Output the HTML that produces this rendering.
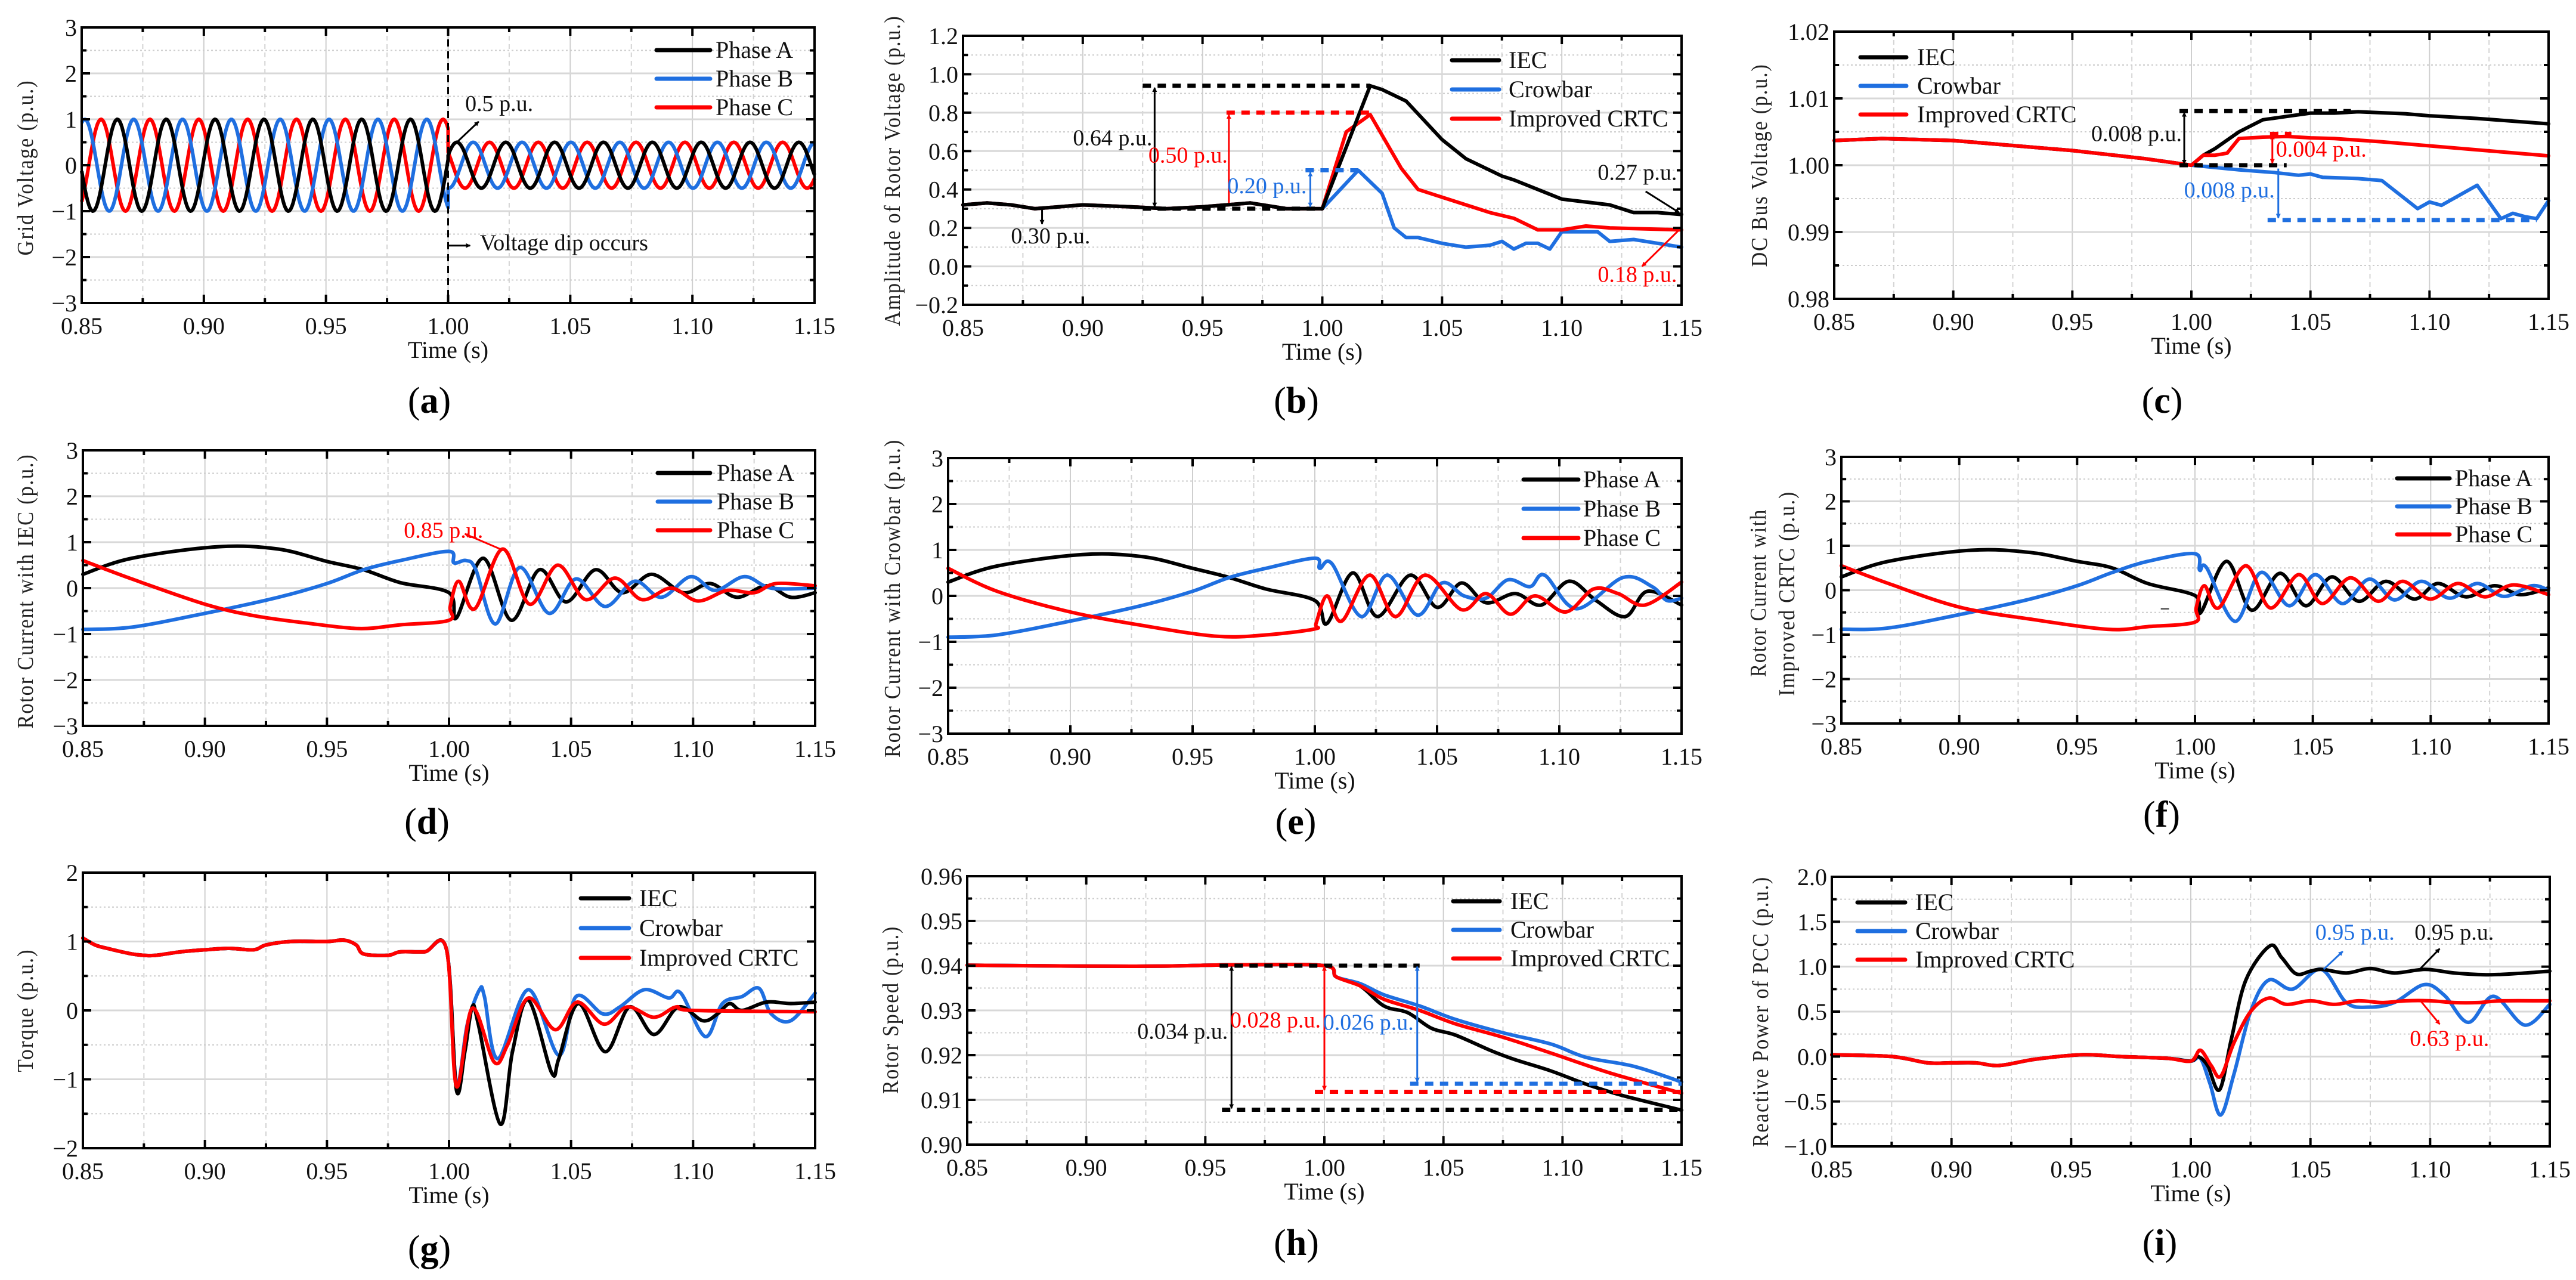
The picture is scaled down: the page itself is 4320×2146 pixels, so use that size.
<!DOCTYPE html>
<html><head><meta charset="utf-8">
<style>
html,body{margin:0;padding:0;background:#fff;}
svg{display:block;font-family:"Liberation Serif",serif;}
</style></head>
<body>
<svg id="fig" width="4320" height="2146" viewBox="0 0 4320 2146" xmlns="http://www.w3.org/2000/svg">
<defs>
<marker id="ah-k" markerWidth="8" markerHeight="8" refX="7" refY="4" orient="auto" markerUnits="userSpaceOnUse"><path d="M0,0 L8,4 L0,8 Z" fill="#000"/></marker>
<marker id="ah-b" markerWidth="8" markerHeight="8" refX="7" refY="4" orient="auto" markerUnits="userSpaceOnUse"><path d="M0,0 L8,4 L0,8 Z" fill="#1f6fe0"/></marker>
<marker id="ah-r" markerWidth="8" markerHeight="8" refX="7" refY="4" orient="auto" markerUnits="userSpaceOnUse"><path d="M0,0 L8,4 L0,8 Z" fill="#ff0000"/></marker>
</defs>
</svg>
<script>
// ---------- DATA ----------
const xTicks = [0.85,0.90,0.95,1.00,1.05,1.10,1.15];
const xTickLabels = ["0.85","0.90","0.95","1.00","1.05","1.10","1.15"];

// (a) grid voltage: sine parameters
const a_amp = [1.0, 0.5];
const a_peakTime = [0.8646, 1.0036];
const a_phaseOffset = [0, -0.01333, -0.00667];
const a_period = [0.02];

// (b) rotor voltage amplitude
const b_pre = [[0.85,0.32],[0.86,0.33],[0.87,0.32],[0.88,0.30],[0.89,0.31],[0.90,0.32],[0.92,0.31],[0.935,0.30],[0.95,0.31],[0.97,0.33],[0.985,0.30],[1.0,0.30]];
const b_iec = [[1.02,0.94],[1.025,0.92],[1.035,0.86],[1.05,0.66],[1.06,0.56],[1.075,0.47],[1.08,0.45],[1.09,0.40],[1.10,0.35],[1.12,0.32],[1.13,0.28],[1.14,0.28],[1.15,0.27]];
const b_crow = [[1.015,0.50],[1.025,0.38],[1.03,0.20],[1.035,0.15],[1.04,0.15],[1.05,0.12],[1.06,0.10],[1.07,0.11],[1.075,0.13],[1.08,0.09],[1.085,0.12],[1.09,0.12],[1.095,0.09],[1.10,0.18],[1.11,0.18],[1.115,0.18],[1.12,0.13],[1.13,0.14],[1.14,0.12],[1.15,0.10]];
const b_crtc = [[1.01,0.70],[1.02,0.79],[1.033,0.51],[1.04,0.40],[1.05,0.36],[1.06,0.32],[1.07,0.28],[1.08,0.25],[1.09,0.19],[1.10,0.19],[1.11,0.21],[1.12,0.20],[1.15,0.19]];

// (c) DC bus voltage
const c_pre = [[0.85,1.0037],[0.87,1.0040],[0.90,1.0037],[0.95,1.0022],[0.98,1.0010],[1.0,1.0000]];
const c_iec = [[1.005,1.0015],[1.01,1.0025],[1.02,1.0050],[1.03,1.0068],[1.04,1.0073],[1.05,1.0078],[1.06,1.0078],[1.07,1.0080],[1.09,1.0077],[1.10,1.0074],[1.12,1.0070],[1.15,1.0062]];
const c_crow = [[1.02,0.9993],[1.035,0.9989],[1.045,0.9985],[1.05,0.9987],[1.055,0.9982],[1.07,0.9980],[1.08,0.9977],[1.095,0.9935],[1.10,0.9945],[1.105,0.9940],[1.12,0.9970],[1.13,0.9920],[1.135,0.9928],[1.14,0.9923],[1.145,0.9920],[1.15,0.9947]];
const c_crtc = [[1.005,1.0015],[1.01,1.0015],[1.015,1.0018],[1.02,1.0040],[1.03,1.0042],[1.04,1.0043],[1.05,1.0041],[1.06,1.0040],[1.08,1.0035],[1.10,1.0029],[1.12,1.0023],[1.15,1.0014]];

// (d) rotor current with IEC
const d_A = [[0.85,0.30],[0.87,0.65],[0.905,0.90],[0.93,0.85],[0.95,0.58],[0.965,0.40],[0.98,0.12],[1.0,-0.10],[1.003,-0.65],[1.014,0.65],[1.0255,-0.70],[1.037,0.40],[1.048,-0.30],[1.060,0.40],[1.071,-0.10],[1.083,0.30],[1.096,-0.10],[1.107,0.10],[1.118,-0.20],[1.130,0.05],[1.140,-0.20],[1.15,-0.10]];
const d_B = [[0.85,-0.90],[0.87,-0.85],[0.90,-0.55],[0.93,-0.20],[0.95,0.10],[0.965,0.40],[0.98,0.60],[1.0,0.80],[1.002,0.55],[1.007,0.60],[1.011,0.40],[1.019,-0.78],[1.029,0.45],[1.041,-0.55],[1.052,0.20],[1.064,-0.40],[1.076,0.15],[1.087,-0.20],[1.099,0.25],[1.109,-0.05],[1.121,0.25],[1.132,0.0],[1.15,0.0]];
const d_C = [[0.85,0.60],[0.87,0.20],[0.90,-0.35],[0.92,-0.60],[0.94,-0.75],[0.963,-0.88],[0.98,-0.80],[1.0,-0.70],[1.0005,-0.40],[1.004,0.15],[1.0106,-0.45],[1.022,0.85],[1.033,-0.35],[1.0445,0.50],[1.056,-0.25],[1.068,0.22],[1.079,-0.25],[1.091,0.0],[1.102,-0.28],[1.114,-0.05],[1.125,-0.10],[1.134,0.10],[1.15,0.05]];

// (e) rotor current with Crowbar
const e_A = [[0.85,0.30],[0.87,0.65],[0.905,0.90],[0.93,0.85],[0.95,0.60],[0.965,0.40],[0.98,0.15],[1.0,-0.10],[1.005,-0.60],[1.0155,0.50],[1.0256,-0.45],[1.039,0.45],[1.05,-0.25],[1.060,0.28],[1.070,-0.15],[1.082,0.05],[1.0926,-0.20],[1.104,0.32],[1.115,-0.10],[1.127,-0.45],[1.136,0.10],[1.15,-0.20]];
const e_B = [[0.85,-0.90],[0.87,-0.85],[0.90,-0.55],[0.93,-0.20],[0.95,0.10],[0.965,0.40],[0.98,0.60],[1.0,0.82],[1.002,0.60],[1.007,0.70],[1.019,-0.45],[1.0296,0.45],[1.042,-0.42],[1.052,0.28],[1.061,0.0],[1.070,-0.05],[1.079,0.35],[1.088,0.20],[1.094,0.45],[1.107,-0.28],[1.126,0.40],[1.138,0.20],[1.144,-0.10],[1.15,-0.05]];
const e_C = [[0.85,0.60],[0.87,0.10],[0.90,-0.35],[0.93,-0.65],[0.96,-0.88],[0.98,-0.85],[1.0,-0.72],[1.0005,-0.60],[1.005,0.0],[1.011,-0.55],[1.0224,0.45],[1.033,-0.45],[1.045,0.45],[1.06,-0.30],[1.07,0.05],[1.08,-0.40],[1.09,0.0],[1.1027,-0.35],[1.114,0.15],[1.124,0.05],[1.135,-0.20],[1.15,0.30]];

// (f) rotor current with Improved CRTC
const f_A = [[0.85,0.30],[0.87,0.65],[0.905,0.90],[0.93,0.85],[0.95,0.65],[0.965,0.50],[0.98,0.15],[1.0,-0.12],[1.0025,-0.50],[1.0134,0.65],[1.024,-0.45],[1.036,0.38],[1.047,-0.35],[1.058,0.30],[1.0695,-0.25],[1.081,0.20],[1.093,-0.20],[1.103,0.15],[1.115,-0.15],[1.127,0.10],[1.138,-0.10],[1.15,0.05]];
const f_B = [[0.85,-0.88],[0.87,-0.85],[0.90,-0.55],[0.93,-0.20],[0.95,0.10],[0.965,0.40],[0.98,0.65],[1.0,0.82],[1.002,0.45],[1.005,0.50],[1.017,-0.70],[1.028,0.40],[1.040,-0.35],[1.051,0.35],[1.0625,-0.30],[1.074,0.25],[1.0847,-0.22],[1.096,0.20],[1.108,-0.18],[1.1197,0.15],[1.131,-0.14],[1.143,0.10],[1.15,0.0]];
const f_C = [[0.85,0.55],[0.87,0.15],[0.90,-0.38],[0.93,-0.65],[0.963,-0.88],[0.98,-0.82],[1.0,-0.72],[1.0005,-0.40],[1.004,0.10],[1.010,-0.40],[1.0216,0.55],[1.032,-0.40],[1.044,0.35],[1.054,-0.30],[1.066,0.28],[1.0777,-0.25],[1.088,0.20],[1.0998,-0.20],[1.1115,0.15],[1.123,-0.15],[1.135,0.12],[1.15,-0.10]];

// (g) torque
const g_pre = [[0.85,1.05],[0.855,0.95],[0.86,0.90],[0.87,0.82],[0.875,0.80],[0.88,0.80],[0.89,0.85],[0.90,0.88],[0.91,0.90],[0.92,0.88],[0.925,0.95],[0.935,1.00],[0.95,1.00],[0.957,1.02],[0.962,0.95],[0.965,0.82],[0.975,0.80],[0.98,0.85],[0.99,0.85],[0.999,0.88]];
const g_iec = [[1.003,-1.15],[1.0065,-0.60],[1.0095,0.05],[1.012,-0.20],[1.021,-1.65],[1.026,-0.60],[1.0325,0.15],[1.042,-0.90],[1.045,-0.70],[1.053,0.10],[1.064,-0.60],[1.074,0.05],[1.084,-0.35],[1.094,0.05],[1.104,-0.15],[1.11,-0.05],[1.115,0.10],[1.12,0.0],[1.13,0.12],[1.14,0.10],[1.15,0.12]];
const g_crow = [[1.003,-1.05],[1.0075,-0.20],[1.0125,0.30],[1.0145,0.20],[1.02,-0.70],[1.0325,0.30],[1.045,-0.65],[1.052,0.20],[1.063,-0.05],[1.07,0.05],[1.08,0.30],[1.09,0.18],[1.095,0.25],[1.105,-0.38],[1.112,0.10],[1.12,0.20],[1.127,0.32],[1.132,-0.05],[1.14,-0.15],[1.15,0.25]];
const g_crtc = [[1.003,-1.10],[1.0095,0.03],[1.0185,-0.75],[1.024,-0.50],[1.0325,0.18],[1.0435,-0.28],[1.0525,0.12],[1.0635,-0.20],[1.073,0.05],[1.084,-0.10],[1.093,0.05],[1.10,0.0],[1.15,-0.02]];

// (h) rotor speed
const h_pre = [[0.85,0.9401],[0.90,0.9399],[0.93,0.9399],[0.965,0.9402],[1.0,0.9400]];
const h_iec = [[1.005,0.9375],[1.015,0.9355],[1.025,0.9310],[1.035,0.9295],[1.045,0.9260],[1.055,0.9245],[1.07,0.9210],[1.08,0.9190],[1.095,0.9165],[1.11,0.9135],[1.125,0.9110],[1.15,0.9077]];
const h_crow = [[1.005,0.9375],[1.015,0.9360],[1.025,0.9335],[1.04,0.9310],[1.055,0.9280],[1.075,0.9250],[1.095,0.9225],[1.11,0.9195],[1.13,0.9175],[1.15,0.9140]];
const h_crtc = [[1.005,0.9375],[1.015,0.9355],[1.025,0.9325],[1.04,0.9300],[1.055,0.9270],[1.075,0.9240],[1.095,0.9205],[1.12,0.9160],[1.15,0.9115]];

// (i) reactive power of PCC
const i_pre = [[0.85,0.02],[0.875,0.0],[0.89,-0.07],[0.90,-0.07],[0.91,-0.07],[0.92,-0.10],[0.935,-0.03],[0.955,0.02],[0.97,0.0],[0.99,-0.02],[1.0,-0.05]];
const i_iec = [[1.003,0.0],[1.007,-0.10],[1.012,-0.37],[1.017,0.20],[1.023,0.85],[1.033,1.23],[1.038,1.10],[1.044,0.92],[1.05,0.95],[1.055,0.97],[1.065,0.93],[1.075,0.98],[1.085,0.93],[1.098,0.97],[1.11,0.93],[1.125,0.91],[1.14,0.93],[1.15,0.95]];
const i_crow = [[1.004,-0.02],[1.008,-0.30],[1.0125,-0.65],[1.018,-0.20],[1.025,0.50],[1.0325,0.85],[1.0425,0.75],[1.0545,0.97],[1.065,0.60],[1.0745,0.55],[1.085,0.60],[1.0975,0.80],[1.106,0.68],[1.116,0.38],[1.1265,0.67],[1.1395,0.35],[1.15,0.58]];
const i_crtc = [[1.004,0.07],[1.0085,-0.10],[1.0125,-0.22],[1.018,0.15],[1.025,0.50],[1.0325,0.65],[1.04,0.58],[1.05,0.62],[1.06,0.58],[1.07,0.62],[1.08,0.60],[1.09,0.62],[1.10,0.62],[1.11,0.60],[1.12,0.60],[1.13,0.62],[1.15,0.62]];

const phaseNames = ["Phase A","Phase B","Phase C"];
const ctrlNames = ["IEC","Crowbar","Improved CRTC"];

// ---------- RENDER ----------
const NS = "http://www.w3.org/2000/svg";
const svg = document.getElementById('fig');
const COL = {k:"#000000", b:"#1f6fe0", r:"#ff0000"};
function el(tag, attrs, parent){
  const e = document.createElementNS(NS, tag);
  for (const k in attrs) e.setAttribute(k, attrs[k]);
  (parent||svg).appendChild(e);
  return e;
}
function fmtNum(v, dec){ const s = v.toFixed(dec); return s.startsWith('-') ? '\u2212'+s.slice(1) : s; }

function makePanel(cfg){
  const g = el('g', {});
  
  
  const {l,t,r,b} = cfg.box;
  const X = v => l + (v-0.85)/0.3*(r-l);
  const Y = v => b - (v-cfg.ymin)/(cfg.ymax-cfg.ymin)*(b-t);
  cfg.X = X; cfg.Y = Y; cfg.g = g;
  const grid = el('g', {}, g);
  
  
  for (let k=0;k<xTicks.length-1;k++){
    const xm = X(xTicks[k]+0.025);
    el('line',{x1:xm,y1:t,x2:xm,y2:b,stroke:"#d4d4d4","stroke-width":2,"stroke-dasharray":"8,6"},grid);
  }
  xTicks.forEach(v=>{ el('line',{x1:X(v),y1:t,x2:X(v),y2:b,stroke:"#cfcfcf","stroke-width":2},grid); });
  const nMaj = Math.round((cfg.ymax-cfg.ymin)/cfg.ystep);
  for (let k=0;k<=nMaj;k++){
    const v = cfg.ymin + k*cfg.ystep;
    el('line',{x1:l,y1:Y(v),x2:r,y2:Y(v),stroke:"#d8d8d8","stroke-width":3},grid);
    if (k<nMaj){
      const vm = v + cfg.ystep/2;
      el('line',{x1:l,y1:Y(vm),x2:r,y2:Y(vm),stroke:"#cccccc","stroke-width":2,"stroke-dasharray":"3,4"},grid);
    }
  }
  cfg.drawSeries(cfg);
  el('rect',{x:l,y:t,width:r-l,height:b-t,fill:"none",stroke:"#000","stroke-width":4},g);
  const ticks = el('g',{stroke:"#000","stroke-width":4},g);
  xTicks.forEach((v,k)=>{
    el('line',{x1:X(v),y1:b,x2:X(v),y2:b-14},ticks);
    el('line',{x1:X(v),y1:t,x2:X(v),y2:t+14},ticks);
    if (k<xTicks.length-1){
      const xm = X(v+0.025);
      el('line',{x1:xm,y1:b,x2:xm,y2:b-8},ticks);
      el('line',{x1:xm,y1:t,x2:xm,y2:t+8},ticks);
    }
    const tl = el('text',{x:X(v),y:b+52,"font-size":40,"text-anchor":"middle",fill:"#111"},g);
    
    
    tl.textContent = xTickLabels[k];
  });
  for (let k=0;k<=nMaj;k++){
    const v = cfg.ymin + k*cfg.ystep;
    el('line',{x1:l,y1:Y(v),x2:l+14,y2:Y(v)},ticks);
    el('line',{x1:r,y1:Y(v),x2:r-14,y2:Y(v)},ticks);
    if (k<nMaj){
      const vm = v + cfg.ystep/2;
      el('line',{x1:l,y1:Y(vm),x2:l+8,y2:Y(vm)},ticks);
      el('line',{x1:r,y1:Y(vm),x2:r-8,y2:Y(vm)},ticks);
    }
    const yl = el('text',{x:l-8,y:Y(v)+14,"font-size":40,"text-anchor":"end",fill:"#111"},g);
    
    
    yl.textContent = fmtNum(v, cfg.ydec);
  }
  const xt = el('text',{x:(l+r)/2,y:b+92,"font-size":40,"text-anchor":"middle",fill:"#111"},g);
  
  
  xt.textContent = "Time (s)";
  cfg.ylabels.forEach(yl=>{
    const tt = el('text',{x:0,y:0,"font-size":38,"text-anchor":"middle","letter-spacing":"2",fill:"#222",
      textLength:yl.len,lengthAdjust:"spacingAndGlyphs",
      transform:`translate(${yl.x+13},${yl.cy}) rotate(-90)`},g);
    
    
    tt.textContent = yl.text;
  });
  const pl = el('text',{x:cfg.letter[0],y:cfg.letter[1],"font-size":62,"text-anchor":"middle",fill:"#000"},g);
  
  
  const s1 = el('tspan',{},pl); s1.textContent="(";
  const s2 = el('tspan',{"font-weight":"bold"},pl); s2.textContent=cfg.id;
  const s3 = el('tspan',{},pl); s3.textContent=")";
  const lg = el('g',{},g);
  
  
  cfg.legend.names.forEach((nm,k)=>{
    const y = cfg.legend.y + k*cfg.legend.dy;
    const c = [COL.k,COL.b,COL.r][k];
    const ent = el('g',{},lg);
    
    
    el('line',{x1:cfg.legend.x1,y1:y,x2:cfg.legend.x2,y2:y,stroke:c,"stroke-width":7,"stroke-linecap":"round"},ent);
    const tx = el('text',{x:cfg.legend.tx,y:y+13,"font-size":40,fill:"#111"},ent);
    tx.textContent = nm;
  });
  if (cfg.annot) cfg.annot(cfg);
}

function smoothPath(pts, X, Y){
  const P = pts.map(p=>[X(p[0]),Y(p[1])]);
  let d = `M${P[0][0].toFixed(1)},${P[0][1].toFixed(1)}`;
  for (let i=0;i<P.length-1;i++){
    const p0=P[Math.max(0,i-1)], p1=P[i], p2=P[i+1], p3=P[Math.min(P.length-1,i+2)];
    const c1=[p1[0]+(p2[0]-p0[0])/6, p1[1]+(p2[1]-p0[1])/6];
    const c2=[p2[0]-(p3[0]-p1[0])/6, p2[1]-(p3[1]-p1[1])/6];
    d += ` C${c1[0].toFixed(1)},${c1[1].toFixed(1)} ${c2[0].toFixed(1)},${c2[1].toFixed(1)} ${p2[0].toFixed(1)},${p2[1].toFixed(1)}`;
  }
  return d;
}
function linePath(pts, X, Y){
  return pts.map((p,i)=>(i?'L':'M')+X(p[0]).toFixed(1)+','+Y(p[1]).toFixed(1)).join(' ');
}
function series(cfg, pts, color, name, linear){
  const d = linear ? linePath(pts,cfg.X,cfg.Y) : smoothPath(pts,cfg.X,cfg.Y);
  const p = el('path',{d,fill:"none",stroke:color,"stroke-width":6,"stroke-linejoin":"round","stroke-linecap":"round"},cfg.g);
  
  
  return p;
}
function dashH(cfg,t1,t2,v,c){ el('line',{x1:cfg.X(t1),y1:cfg.Y(v),x2:cfg.X(t2),y2:cfg.Y(v),stroke:c,"stroke-width":7,"stroke-dasharray":"14,11"},cfg.g); }
function arrow(cfg,t1,v1,t2,v2,c,mk,both){
  const a = {x1:cfg.X(t1),y1:cfg.Y(v1),x2:cfg.X(t2),y2:cfg.Y(v2),stroke:c,"stroke-width":3,"marker-end":`url(#${mk})`};
  if (both) a["marker-start"]=`url(#${mk}s)`;
  return el('line',a,cfg.g);
}
['k','b','r'].forEach(k=>{
  const defs = svg.querySelector('defs');
  const m = el('marker',{id:`ah-${k}s`,markerWidth:8,markerHeight:8,refX:1,refY:4,orient:"auto",markerUnits:"userSpaceOnUse"},defs);
  el('path',{d:"M8,0 L0,4 L8,8 Z",fill:COL[k]},m);
});
function note(cfg,t,v,str,c,anchor){
  const tx = el('text',{x:cfg.X(t),y:cfg.Y(v),"font-size":38,fill:c,"text-anchor":anchor||"start"},cfg.g);
  
  
  tx.textContent = str;
}

// ---- Panel (a)
makePanel({id:"a", box:{l:137,t:46,r:1366,b:508}, ymin:-3,ymax:3,ystep:1,ydec:0,
  ylabels:[{text:"Grid Voltage (p.u.)",x:42,cy:281,len:295}], letter:[720,692],
  legend:{names:phaseNames,x1:1101,x2:1191,tx:1200,y:84,dy:48},
  drawSeries(cfg){
    const cols=[COL.k,COL.b,COL.r];
    [2,1,0].forEach(ph=>{
      const pts=[];
      for(let tt=0.85; tt<=1.0+1e-9; tt+=0.0005){
        pts.push([tt, a_amp[0]*Math.cos(2*Math.PI*(tt-a_peakTime[0]-a_phaseOffset[ph])/a_period[0])]);
      }
      for(let tt=1.0; tt<=1.15+1e-9; tt+=0.0005){
        pts.push([tt, a_amp[1]*Math.cos(2*Math.PI*(tt-a_peakTime[1]-a_phaseOffset[ph])/a_period[0])]);
      }
      const pth = el('path',{d:linePath(pts,cfg.X,cfg.Y),fill:"none",stroke:cols[ph],"stroke-width":6,"stroke-linejoin":"round"},cfg.g);
      
      
    });
  },
  annot(cfg){
    el('line',{x1:cfg.X(1.0),y1:cfg.box.t,x2:cfg.X(1.0),y2:cfg.box.b,stroke:"#000","stroke-width":3,"stroke-dasharray":"12,8"},cfg.g);
    arrow(cfg,1.002,0.42,1.0125,0.95,"#000","ah-k");
    note(cfg,1.007,1.18,"0.5 p.u.","#111");
    arrow(cfg,1.0,-1.75,1.009,-1.75,"#000","ah-k");
    note(cfg,1.013,-1.85,"Voltage dip occurs","#111");
  }
});

// ---- Panel (b)
makePanel({id:"b", box:{l:1615,t:60,r:2820,b:511}, ymin:-0.2,ymax:1.2,ystep:0.2,ydec:1,
  ylabels:[{text:"Amplitude of Rotor Voltage (p.u.)",x:1496,cy:286,len:521}], letter:[2174,692],
  legend:{names:ctrlNames,x1:2435,x2:2514,tx:2530,y:101,dy:49},
  drawSeries(cfg){
    series(cfg,b_pre.concat(b_crow),COL.b,'series-crowbar',true);
    series(cfg,b_pre.concat(b_crtc),COL.r,'series-improved-crtc',true);
    series(cfg,b_pre.concat(b_iec),COL.k,'series-iec',true);
  },
  annot(cfg){
    dashH(cfg,0.925,1.02,0.94,"#000"); dashH(cfg,0.925,1.0,0.30,"#000");
    arrow(cfg,0.930,0.31,0.930,0.93,"#000","ah-k",true);
    note(cfg,0.929,0.63,"0.64 p.u.","#111","end");
    dashH(cfg,0.96,1.02,0.80,COL.r);
    arrow(cfg,0.961,0.33,0.961,0.79,COL.r,"ah-r");
    note(cfg,0.9605,0.54,"0.50 p.u.",COL.r,"end");
    dashH(cfg,0.993,1.015,0.50,COL.b);
    arrow(cfg,0.995,0.31,0.995,0.49,COL.b,"ah-b",true);
    note(cfg,0.9935,0.38,"0.20 p.u.",COL.b,"end");
    arrow(cfg,0.883,0.30,0.883,0.22,"#000","ah-k");
    note(cfg,0.870,0.12,"0.30 p.u.","#111");
    arrow(cfg,1.135,0.39,1.149,0.28,"#000","ah-k");
    note(cfg,1.115,0.45,"0.27 p.u.","#111");
    arrow(cfg,1.149,0.19,1.1335,0.0,COL.r,"ah-r");
    note(cfg,1.115,-0.08,"0.18 p.u.",COL.r);
  }
});

// ---- Panel (c)
makePanel({id:"c", box:{l:3076,t:53,r:4274,b:501}, ymin:0.98,ymax:1.02,ystep:0.01,ydec:2,
  ylabels:[{text:"DC Bus Voltage (p.u.)",x:2950,cy:277,len:341}], letter:[3626,692],
  legend:{names:ctrlNames,x1:3120,x2:3197,tx:3215,y:96,dy:48},
  drawSeries(cfg){
    series(cfg,c_pre.concat(c_crow),COL.b,'series-crowbar',true);
    series(cfg,c_pre.concat(c_iec),COL.k,'series-iec',true);
    series(cfg,c_pre.concat(c_crtc),COL.r,'series-improved-crtc',true);
  },
  annot(cfg){
    dashH(cfg,0.995,1.067,1.0081,"#000"); dashH(cfg,0.995,1.04,1.0,"#000");
    arrow(cfg,0.997,1.0002,0.997,1.0079,"#000","ah-k",true);
    note(cfg,0.996,1.0036,"0.008 p.u.","#111","end");
    dashH(cfg,1.033,1.042,1.0047,COL.r);
    arrow(cfg,1.034,1.0045,1.034,1.0003,COL.r,"ah-r",true);
    note(cfg,1.0355,1.0013,"0.004 p.u.",COL.r);
    dashH(cfg,1.032,1.145,0.9918,COL.b);
    arrow(cfg,1.0365,0.9995,1.0365,0.9921,COL.b,"ah-b");
    note(cfg,1.035,0.9952,"0.008 p.u.",COL.b,"end");
  }
});

// ---- Panel (d)
makePanel({id:"d", box:{l:139,t:755,r:1367,b:1217}, ymin:-3,ymax:3,ystep:1,ydec:0,
  ylabels:[{text:"Rotor Current with IEC (p.u.)",x:42,cy:991,len:461}], letter:[716,1398],
  legend:{names:phaseNames,x1:1103,x2:1191,tx:1202,y:793,dy:48},
  drawSeries(cfg){
    series(cfg,d_A,COL.k,'series-phase-a');
    series(cfg,d_B,COL.b,'series-phase-b');
    series(cfg,d_C,COL.r,'series-phase-c');
  },
  annot(cfg){
    arrow(cfg,1.021,0.85,1.0065,1.18,COL.r,"ah-r");
    note(cfg,0.9815,1.1,"0.85 p.u.",COL.r);
  }
});

// ---- Panel (e)
makePanel({id:"e", box:{l:1590,t:768,r:2820,b:1230}, ymin:-3,ymax:3,ystep:1,ydec:0,
  ylabels:[{text:"Rotor Current with Crowbar (p.u.)",x:1496,cy:1003,len:534}], letter:[2173,1398],
  legend:{names:phaseNames,x1:2555,x2:2647,tx:2655,y:804,dy:49},
  drawSeries(cfg){
    series(cfg,e_A,COL.k,'series-phase-a');
    series(cfg,e_B,COL.b,'series-phase-b');
    series(cfg,e_C,COL.r,'series-phase-c');
  }
});

// ---- Panel (f)
makePanel({id:"f", box:{l:3088,t:766,r:4274,b:1213}, ymin:-3,ymax:3,ystep:1,ydec:0,
  ylabels:[{text:"Rotor Current with",x:2948,cy:994,len:282},{text:"Improved CRTC (p.u.)",x:2996,cy:995,len:344}], letter:[3625,1386],
  legend:{names:phaseNames,x1:4020,x2:4108,tx:4117,y:802,dy:47},
  drawSeries(cfg){
    series(cfg,f_A,COL.k,'series-phase-a');
    series(cfg,f_B,COL.b,'series-phase-b');
    series(cfg,f_C,COL.r,'series-phase-c');
  },
  annot(cfg){
    el('line',{x1:cfg.X(0.9855),y1:cfg.Y(-0.42),x2:cfg.X(0.989),y2:cfg.Y(-0.42),stroke:"#333","stroke-width":2},cfg.g);
  }
});

// ---- Panel (g)
makePanel({id:"g", box:{l:139,t:1463,r:1367,b:1925}, ymin:-2,ymax:2,ystep:1,ydec:0,
  ylabels:[{text:"Torque (p.u.)",x:42,cy:1694,len:207}], letter:[720,2114],
  legend:{names:ctrlNames,x1:974,x2:1055,tx:1072,y:1506,dy:50},
  drawSeries(cfg){
    series(cfg,g_pre.concat(g_crow),COL.b,'series-crowbar');
    series(cfg,g_pre.concat(g_iec),COL.k,'series-iec');
    series(cfg,g_pre.concat(g_crtc),COL.r,'series-improved-crtc');
  }
});

// ---- Panel (h)
makePanel({id:"h", box:{l:1622,t:1469,r:2820,b:1919}, ymin:0.90,ymax:0.96,ystep:0.01,ydec:2,
  ylabels:[{text:"Rotor Speed (p.u.)",x:1493,cy:1693,len:282}], letter:[2174,2104],
  legend:{names:ctrlNames,x1:2437,x2:2515,tx:2533,y:1511,dy:48},
  drawSeries(cfg){
    series(cfg,h_pre.concat(h_iec),COL.k,'series-iec');
    series(cfg,h_pre.concat(h_crow),COL.b,'series-crowbar');
    series(cfg,h_pre.concat(h_crtc),COL.r,'series-improved-crtc');
  },
  annot(cfg){
    dashH(cfg,0.956,1.04,0.9400,"#000"); dashH(cfg,0.957,1.15,0.9078,"#000");
    arrow(cfg,0.961,0.9398,0.961,0.9081,"#000","ah-k",true);
    note(cfg,0.9595,0.9237,"0.034 p.u.","#111","end");
    dashH(cfg,0.996,1.15,0.9118,COL.r);
    arrow(cfg,1.0,0.9398,1.0,0.9122,COL.r,"ah-r",true);
    note(cfg,0.9985,0.9262,"0.028 p.u.",COL.r,"end");
    dashH(cfg,1.036,1.15,0.9136,COL.b);
    arrow(cfg,1.039,0.9398,1.039,0.914,COL.b,"ah-b",true);
    note(cfg,1.0375,0.9257,"0.026 p.u.",COL.b,"end");
  }
});

// ---- Panel (i)
makePanel({id:"i", box:{l:3072,t:1470,r:4276,b:1922}, ymin:-1,ymax:2,ystep:0.5,ydec:1,
  ylabels:[{text:"Reactive Power of PCC (p.u.)",x:2952,cy:1696,len:454}], letter:[3622,2104],
  legend:{names:ctrlNames,x1:3115,x2:3195,tx:3212,y:1513,dy:48},
  drawSeries(cfg){
    series(cfg,i_pre.concat(i_crow),COL.b,'series-crowbar');
    series(cfg,i_pre.concat(i_iec),COL.k,'series-iec');
    series(cfg,i_pre.concat(i_crtc),COL.r,'series-improved-crtc');
  },
  annot(cfg){
    arrow(cfg,1.0555,0.97,1.0635,1.17,COL.b,"ah-b");
    note(cfg,1.052,1.3,"0.95 p.u.",COL.b);
    arrow(cfg,1.096,0.98,1.104,1.2,"#000","ah-k");
    note(cfg,1.0935,1.3,"0.95 p.u.","#111");
    arrow(cfg,1.096,0.62,1.104,0.36,COL.r,"ah-r");
    note(cfg,1.0915,0.12,"0.63 p.u.",COL.r);
  }
});
</script>
</body></html>
